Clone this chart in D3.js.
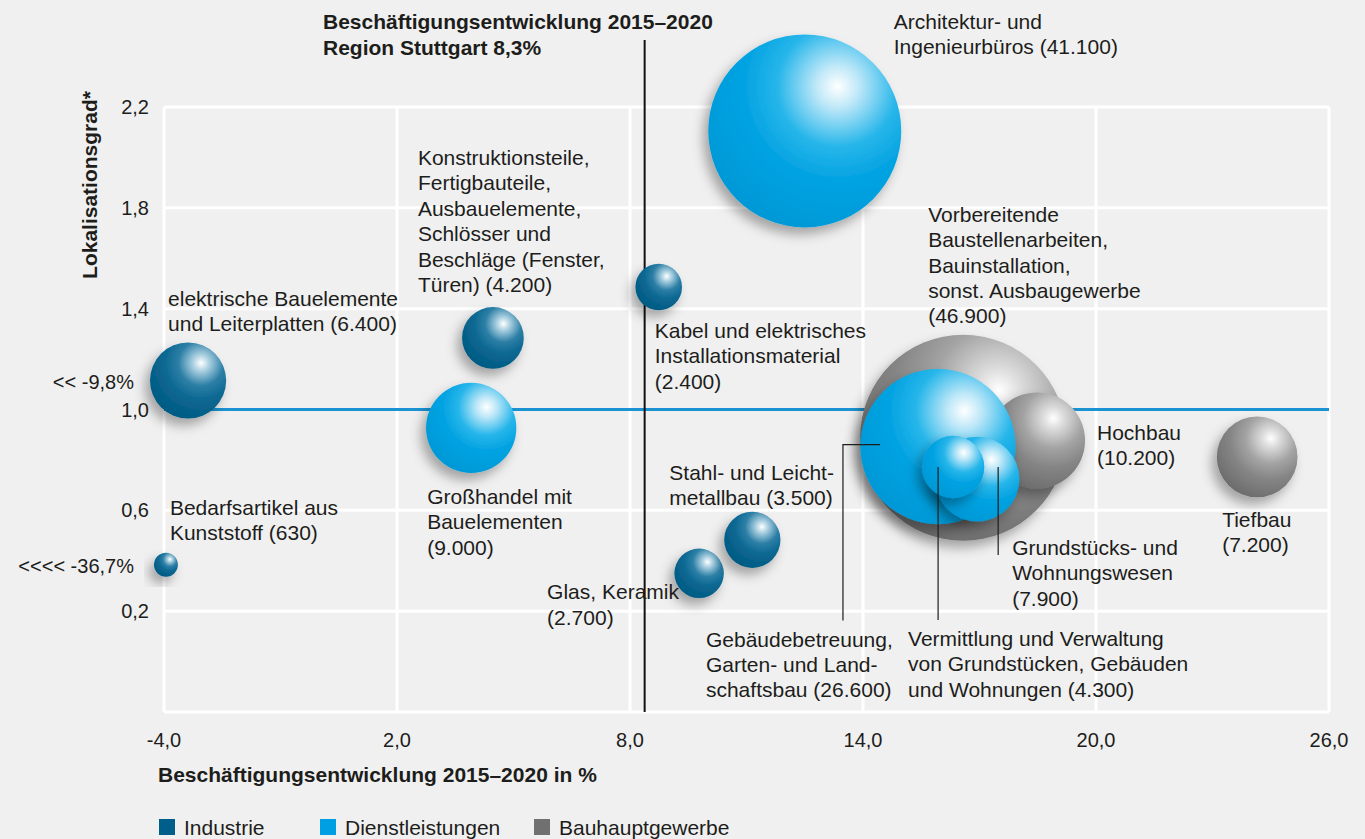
<!DOCTYPE html>
<html lang="de">
<head>
<meta charset="utf-8">
<title>Lokalisationsgrad und Beschäftigungsentwicklung</title>
<script src="https://d3js.org/d3.v7.min.js"></script>
<style>
body { margin: 0; background: #f0f0f0; }
svg text { font-family: "Liberation Sans", Arial, sans-serif; fill: #1d1d1b; }
</style>
</head>
<body>
<script type="text/javascript">
var w = 1365;
var h = 839;

// data
var categories = ["Industrie", "Dienstleistungen", "Bauhauptgewerbe"];

var branches = [
  "elektrische Bauelemente und Leiterplatten",
  "Bedarfsartikel aus Kunststoff",
  "Konstruktionsteile, Fertigbauteile, Ausbauelemente, Schlösser und Beschläge",
  "Kabel und elektrisches Installationsmaterial",
  "Großhandel mit Bauelementen",
  "Glas, Keramik",
  "Stahl- und Leichtmetallbau",
  "Architektur- und Ingenieurbüros",
  "Vorbereitende Baustellenarbeiten, Bauinstallation, sonst. Ausbaugewerbe",
  "Gebäudebetreuung, Garten- und Landschaftsbau",
  "Hochbau",
  "Tiefbau",
  "Grundstücks- und Wohnungswesen",
  "Vermittlung und Verwaltung von Grundstücken, Gebäuden und Wohnungen"
];
var sector = [0, 0, 0, 0, 1, 0, 0, 1, 2, 1, 2, 2, 1, 1];
// growth 2015-2020 in % (position on the axis; the two outliers sit at the left edge)
var growth = [-3.38, -3.95, 4.47, 8.74, 3.91, 9.78, 11.15, 12.5, 16.58, 15.93, 18.48, 24.15, 16.94, 16.32];
var growthNote = ["<< -9,8%", "<<<< -36,7%", null, null, null, null, null, null, null, null, null, null, null, null];
var localisation = [1.115, 0.384, 1.284, 1.486, 0.927, 0.35, 0.483, 2.105, 0.888, 0.853, 0.877, 0.812, 0.724, 0.772];
var employees = [6400, 630, 4200, 2400, 9000, 2700, 3500, 41100, 46900, 26600, 10200, 7200, 7900, 4300];

var labelLines = [
  ["elektrische Bauelemente", "und Leiterplatten ({n})"],
  ["Bedarfsartikel aus", "Kunststoff ({n})"],
  ["Konstruktionsteile,", "Fertigbauteile,", "Ausbauelemente,", "Schlösser und", "Beschläge (Fenster,", "Türen) ({n})"],
  ["Kabel und elektrisches", "Installationsmaterial", "({n})"],
  ["Großhandel mit", "Bauelementen", "({n})"],
  ["Glas, Keramik", "({n})"],
  ["Stahl- und Leicht-", "metallbau ({n})"],
  ["Architektur- und", "Ingenieurbüros ({n})"],
  ["Vorbereitende", "Baustellenarbeiten,", "Bauinstallation,", "sonst. Ausbaugewerbe", "({n})"],
  ["Gebäudebetreuung,", "Garten- und Land-", "schaftsbau ({n})"],
  ["Hochbau", "({n})"],
  ["Tiefbau", "({n})"],
  ["Grundstücks- und", "Wohnungswesen", "({n})"],
  ["Vermittlung und Verwaltung", "von Grundstücken, Gebäuden", "und Wohnungen ({n})"]
];

var xTicks = [-4, 2, 8, 14, 20, 26];
var yTicks = [0.2, 0.6, 1.0, 1.4, 1.8, 2.2];
var regionGrowth = 8.3;
var titleLines = ["Beschäftigungsentwicklung 2015–2020", "Region Stuttgart 8,3%"];
var xTitle = "Beschäftigungsentwicklung 2015–2020 in %";
var yTitle = "Lokalisationsgrad*";

// layout (pixel offsets of labels and leader lines from bubble centre)
var labelDx = [-20, 4, -75, -4, -44, -152, -83, 89, -35, -232, 60, -35, 35, -45];
var labelDy = [-75, -50, -173, 51, 76, 26, -60, -102, -216, 200, -1, 70, 76, 179];
var leaders = {
  9: [[-58, -2], [-95, -2], [-95, 174]],
  12: [[21, -12], [21, 76]],
  13: [[-15, 0], [-15, 153]]
};
var drawOrder = [0, 1, 2, 3, 4, 5, 6, 7, 11, 8, 10, 9, 12, 13];
var lineH = 25.4;
var regionLineNudge = 3;

var sphereStops = [
  [["0%", "#ffffff"], ["14%", "#a9cfe0"], ["38%", "#2d7fa6"], ["62%", "#0b6892"], ["100%", "#015a82"]],
  [["0%", "#ffffff"], ["14%", "#bfe8f8"], ["40%", "#27b6ea"], ["62%", "#03a3e2"], ["100%", "#0098d6"]],
  [["0%", "#ffffff"], ["14%", "#dcdcdc"], ["40%", "#a3a3a3"], ["65%", "#858585"], ["100%", "#6c6c6c"]]
];
var legendColor = ["#005f8a", "#009fe3", "#707070"];

var de = d3.formatLocale({decimal: ",", thousands: ".", grouping: [3], currency: ["", " €"], minus: "-"});
var fmtTick = de.format(".1f");
var fmtNum = de.format(",d");

var xScale = d3.scaleLinear().domain([-4, 26]).range([164, 1329]);
var yScale = d3.scaleLinear().domain([-0.2, 2.2]).range([712, 107]);
var rScale = d3.scaleSqrt().domain([0, 41100]).range([0, 96.5]);

var svg = d3.select("body")
  .append("svg")
  .attr("width", w)
  .attr("height", h);

svg.append("rect").attr("width", w).attr("height", h).attr("fill", "#f0f0f0");

var defs = svg.append("defs");
sphereStops.forEach(function (stops, i) {
  var g = defs.append("radialGradient")
    .attr("id", "sphere" + i)
    .attr("cx", 0.67).attr("cy", 0.27).attr("r", 0.78)
    .attr("fx", 0.67).attr("fy", 0.27);
  stops.forEach(function (s) {
    g.append("stop").attr("offset", s[0]).attr("stop-color", s[1]);
  });
});
defs.append("filter")
  .attr("id", "shadow")
  .attr("x", "-40%").attr("y", "-40%").attr("width", "180%").attr("height", "180%")
  .append("feDropShadow")
  .attr("dx", -5).attr("dy", 7).attr("stdDeviation", 6)
  .attr("flood-color", "#000").attr("flood-opacity", 0.32);

// grid
var x0 = xScale(-4), x1 = xScale(26), yTop = yScale(2.2), yBot = yScale(-0.2);
svg.selectAll(".vgrid")
  .data(xTicks)
  .enter()
  .append("line")
  .attr("x1", function (d) { return xScale(d); })
  .attr("x2", function (d) { return xScale(d); })
  .attr("y1", yTop)
  .attr("y2", yBot)
  .attr("stroke", "#fff")
  .attr("stroke-width", 3);
svg.selectAll(".hgrid")
  .data([-0.2].concat(yTicks))
  .enter()
  .append("line")
  .attr("x1", x0)
  .attr("x2", x1)
  .attr("y1", function (d) { return yScale(d); })
  .attr("y2", function (d) { return yScale(d); })
  .attr("stroke", function (d) { return d === 1.0 ? "#1b92d1" : "#fff"; })
  .attr("stroke-width", 3);

// tick labels
svg.selectAll(".xlab")
  .data(xTicks)
  .enter()
  .append("text")
  .attr("x", function (d) { return xScale(d); })
  .attr("y", 747)
  .attr("text-anchor", "middle")
  .attr("font-size", "20px")
  .text(function (d) { return fmtTick(d); });
svg.selectAll(".ylab")
  .data(yTicks)
  .enter()
  .append("text")
  .attr("x", 149)
  .attr("y", function (d) { return yScale(d) + 7; })
  .attr("text-anchor", "end")
  .attr("font-size", "20px")
  .text(function (d) { return fmtTick(d); });

// axis titles
svg.append("text")
  .attr("x", 158).attr("y", 782)
  .attr("font-size", "21px").attr("font-weight", "bold")
  .text(xTitle);
svg.append("text")
  .attr("transform", "translate(97,185) rotate(-90)")
  .attr("text-anchor", "middle")
  .attr("font-size", "21px").attr("font-weight", "bold")
  .text(yTitle);

// region line
var rx = xScale(regionGrowth) + regionLineNudge;
svg.append("line")
  .attr("x1", rx).attr("x2", rx)
  .attr("y1", 40).attr("y2", yBot)
  .attr("stroke", "#111").attr("stroke-width", 2);
svg.append("text")
  .attr("x", 323).attr("y", 29)
  .attr("font-size", "21px").attr("font-weight", "bold")
  .selectAll("tspan")
  .data(titleLines)
  .enter()
  .append("tspan")
  .attr("x", 323)
  .attr("dy", function (d, i) { return i ? 26 : 0; })
  .text(function (d) { return d; });

// bubbles
var bubbles = drawOrder.map(function (i) {
  return {i: i, x: growth[i], y: localisation[i], v: employees[i], s: sector[i]};
});
svg.selectAll("circle.bubble")
  .data(bubbles)
  .enter()
  .append("circle")
  .attr("class", "bubble")
  .attr("cx", function (d) { return xScale(d.x); })
  .attr("cy", function (d) { return yScale(d.y); })
  .attr("r", function (d) { return rScale(d.v); })
  .attr("fill", function (d) { return "url(#sphere" + d.s + ")"; })
  .attr("filter", "url(#shadow)");

// leader lines
Object.keys(leaders).forEach(function (k) {
  var cx = xScale(growth[k]), cy = yScale(localisation[k]);
  svg.append("path")
    .attr("d", d3.line()(leaders[k].map(function (p) { return [cx + p[0], cy + p[1]]; })))
    .attr("fill", "none")
    .attr("stroke", "#1d1d1b")
    .attr("stroke-width", 1.2);
});

// labels
branches.forEach(function (name, i) {
  var lx = xScale(growth[i]) + labelDx[i];
  var ly = yScale(localisation[i]) + labelDy[i];
  svg.append("text")
    .attr("x", lx).attr("y", ly)
    .attr("font-size", "21px")
    .selectAll("tspan")
    .data(labelLines[i])
    .enter()
    .append("tspan")
    .attr("x", lx)
    .attr("dy", function (d, j) { return j ? lineH : 0; })
    .text(function (d) { return d.replace("{n}", fmtNum(employees[i])); });
  if (growthNote[i]) {
    svg.append("text")
      .attr("x", 134)
      .attr("y", yScale(localisation[i]) + 8)
      .attr("text-anchor", "end")
      .attr("font-size", "20px")
      .text(growthNote[i]);
  }
});

// legend
var legendX = [159, 320, 534];
var legend = svg.selectAll(".legend")
  .data(categories)
  .enter()
  .append("g")
  .attr("transform", function (d, i) { return "translate(" + legendX[i] + ",819)"; });
legend.append("rect")
  .attr("width", 16).attr("height", 16)
  .attr("fill", function (d, i) { return legendColor[i]; });
legend.append("text")
  .attr("x", 25).attr("y", 16)
  .attr("font-size", "21px")
  .text(function (d) { return d; });
</script>
</body>
</html>
